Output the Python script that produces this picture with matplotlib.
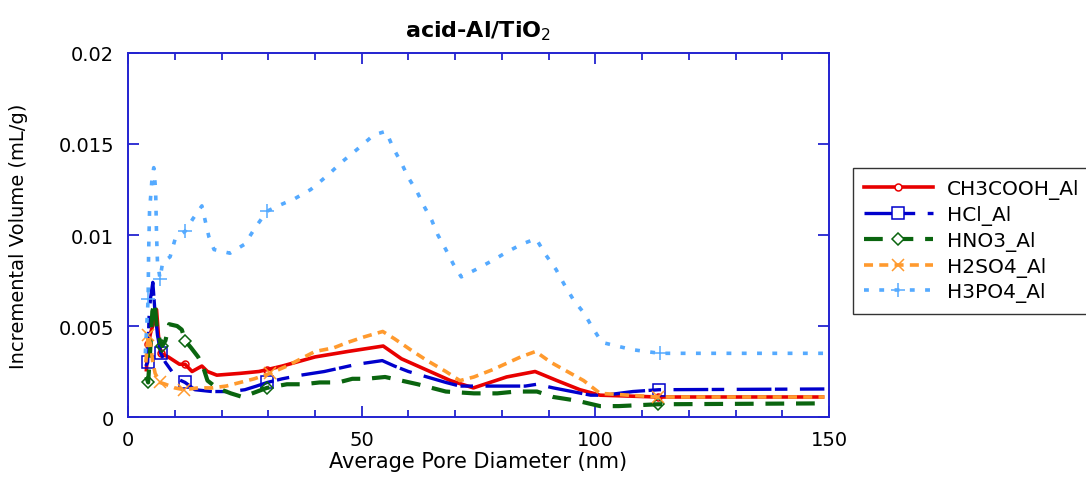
import matplotlib
matplotlib.use("Agg")
import matplotlib.pyplot as plt
from matplotlib.lines import Line2D
from matplotlib.ticker import MultipleLocator, FuncFormatter

# Distribucion BJH de tamano de poro para cada acido
ch3cooh_d = [3.9, 4.3, 4.8, 5.5, 6.1, 6.5, 7.0, 8.6, 11.0, 12.2, 13.7, 15.8, 17.0, 19.0,
             24.0, 28.0, 29.7, 33.0, 40.0, 47.0, 54.6, 58.5, 62.0, 65.5, 69.0, 73.9,
             81.0, 87.1, 91.8, 96.7, 101.0, 113.4, 149.0]
ch3cooh_v = [0.0025, 0.0040, 0.0046, 0.0052, 0.0059, 0.0045, 0.0035, 0.0033, 0.0029, 0.0029,
             0.0025, 0.0028, 0.0025, 0.0023, 0.0024, 0.0025, 0.0026, 0.0028, 0.0033, 0.0036,
             0.0039, 0.0032, 0.0028, 0.0024, 0.0020, 0.0016, 0.0022, 0.0025, 0.0020, 0.0015,
             0.0012, 0.0011, 0.0011]
ch3cooh_marks = [4.3, 7.0, 12.2, 29.7, 113.4]

hcl_d = [3.8, 4.2, 4.5, 4.8, 5.3, 5.7, 6.3, 7.0, 8.0, 9.4, 10.5, 12.2, 14.3, 18.0, 22.0,
         25.0, 27.5, 29.8, 33.0, 37.0, 42.0, 49.0, 54.4, 57.0, 60.0, 64.0, 68.0, 71.0,
         78.0, 85.0, 87.5, 91.0, 95.0, 99.0, 102.0, 108.0, 113.6, 149.0]
hcl_v = [0.0028, 0.0030, 0.0055, 0.0065, 0.0074, 0.0060, 0.0045, 0.0035, 0.0030, 0.0025,
         0.0021, 0.0019, 0.0015, 0.0014, 0.0014, 0.0015, 0.0017, 0.0019, 0.0021, 0.0023,
         0.0025, 0.0029, 0.0031, 0.0028, 0.0025, 0.0022, 0.0019, 0.0017, 0.0017, 0.0017,
         0.0018, 0.0016, 0.0014, 0.0012, 0.0012, 0.0014, 0.0015, 0.00154]
hcl_marks = [4.2, 7.0, 12.2, 29.8, 113.6]

hno3_d = [3.9, 4.3, 4.7, 5.2, 5.7, 6.2, 6.8, 7.3, 8.0, 8.8, 10.5, 11.5, 12.2, 13.5, 15.0,
          16.0, 17.0, 19.0, 22.0, 24.5, 29.7, 34.0, 37.5, 41.0, 45.0, 48.0, 51.0, 55.0,
          62.0, 68.0, 74.0, 79.0, 83.0, 87.5, 91.0, 96.0, 101.0, 105.0, 110.0, 113.4, 149.0]
hno3_v = [0.0022, 0.0019, 0.0035, 0.0058, 0.0063, 0.0048, 0.0042, 0.0039, 0.0042, 0.0051,
          0.0050, 0.0048, 0.0042, 0.0038, 0.0033, 0.0028, 0.0020, 0.0016, 0.0013, 0.0011,
          0.0016, 0.0018, 0.0018, 0.0019, 0.0019, 0.0021, 0.0021, 0.0022, 0.0018, 0.0014,
          0.0013, 0.0013, 0.0014, 0.0014, 0.0011, 0.0009, 0.0006, 0.0006, 0.00066, 0.0007,
          0.00075]
hno3_marks = [4.3, 7.3, 12.2, 29.7, 113.4]

h2so4_d = [3.8, 4.3, 4.8, 5.3, 5.8, 6.8, 8.0, 10.0, 12.0, 15.0, 18.0, 21.0, 24.0, 27.0,
           30.4, 34.0, 37.0, 40.0, 44.0, 47.0, 50.5, 54.5, 57.0, 61.0, 64.0, 68.0, 71.0,
           74.0, 78.0, 84.0, 87.2, 90.5, 94.0, 97.5, 101.0, 113.4, 149.0]
h2so4_v = [0.0030, 0.0045, 0.0040, 0.0030, 0.0024, 0.0019, 0.0018, 0.0016, 0.0015, 0.0016,
           0.0016, 0.0017, 0.0019, 0.0021, 0.0024, 0.0028, 0.0032, 0.0036, 0.0038, 0.0041,
           0.0044, 0.0047, 0.0043, 0.0036, 0.0031, 0.0025, 0.0020, 0.0022, 0.0026, 0.0033,
           0.0036, 0.0030, 0.0025, 0.0020, 0.0013, 0.0011, 0.0011]
h2so4_marks = [4.3, 6.8, 12.0, 30.4, 113.4]

h3po4_d = [3.7, 4.0, 4.3, 4.4, 4.6, 5.1, 5.5, 5.9, 6.1, 6.3, 6.85, 7.4, 9.0, 10.1, 12.2,
           13.9, 15.8, 16.5, 17.3, 18.4, 21.8, 25.0, 27.2, 29.7, 32.1, 35.7, 39.1, 42.8,
           45.7, 49.0, 52.6, 55.2, 56.7, 58.4, 60.1, 61.8, 63.3, 65.0, 66.3, 68.0, 69.6,
           71.3, 74.4, 78.0, 81.3, 84.3, 87.3, 89.4, 91.6, 93.3, 95.4, 97.6, 99.4, 101.4,
           104.6, 107.9, 113.8, 149.0]
h3po4_v = [0.0035, 0.0050, 0.0065, 0.0090, 0.0113, 0.0130, 0.0137, 0.0125, 0.0100, 0.0085,
           0.0076, 0.0085, 0.0088, 0.0098, 0.0102, 0.0109, 0.0116, 0.0108, 0.0099, 0.0092,
           0.0090, 0.0095, 0.0104, 0.0113, 0.0116, 0.0120, 0.0125, 0.0133, 0.0140, 0.0147,
           0.0155, 0.0157, 0.0148, 0.0140, 0.0131, 0.0124, 0.0116, 0.0108, 0.0100, 0.0092,
           0.0084, 0.0077, 0.0081, 0.0086, 0.0091, 0.0095, 0.0098, 0.0089, 0.0081, 0.0073,
           0.0064, 0.0057, 0.0049, 0.0041, 0.0039, 0.0037, 0.0035, 0.0035]
h3po4_marks = [4.3, 6.85, 12.2, 29.7, 113.8]

labels = ["CH3COOH_Al", "HCl_Al", "HNO3_Al", "H2SO4_Al", "H3PO4_Al"]

plt.rcParams["font.family"] = "DejaVu Sans"
plt.rcParams["lines.scale_dashes"] = False

series = [
    (ch3cooh_d, ch3cooh_v, ch3cooh_marks,
     dict(color="#e80000", lw=2.6, ls="-", marker="o", ms=5)),
    (hcl_d, hcl_v, hcl_marks,
     dict(color="#0000cc", lw=2.4, ls=(0, (25, 2.5, 9, 9)), marker="s", ms=8)),
    (hno3_d, hno3_v, hno3_marks,
     dict(color="#0a650f", lw=3.0, ls=(0, (13.5, 8.5)), marker="D", ms=6.5)),
    (h2so4_d, h2so4_v, h2so4_marks,
     dict(color="#ff9a2e", lw=2.6, ls=(0, (6.5, 4.5)), marker="x", ms=8)),
    (h3po4_d, h3po4_v, h3po4_marks,
     dict(color="#55aaff", lw=2.6, ls=(0, (3.5, 7.5)), marker="+", ms=10)),
]

fig = plt.figure(figsize=(10.86, 4.85), dpi=100)
ax = fig.add_axes([0.1179, 0.1381, 0.6455, 0.7506])

handles = []
for (d, v, marks, st), lab in zip(series, labels):
    idx = [d.index(m) for m in marks]
    ax.plot(d, v, color=st["color"], lw=st["lw"], ls=st["ls"], marker=st["marker"],
            ms=st["ms"], mfc="none", mec=st["color"], mew=1.1, markevery=idx,
            dash_capstyle="butt", solid_capstyle="butt")
    handles.append(Line2D([], [], color=st["color"], lw=st["lw"], ls=st["ls"],
                          marker=st["marker"], ms=st["ms"], mfc="white",
                          mec=st["color"], mew=1.1, dash_capstyle="butt", label=lab))

ax.set_xlim(0, 150)
ax.set_ylim(0, 0.02)
ax.xaxis.set_major_locator(MultipleLocator(50))
ax.xaxis.set_minor_locator(MultipleLocator(10))
ax.yaxis.set_major_locator(MultipleLocator(0.005))
ax.yaxis.set_major_formatter(FuncFormatter(lambda v, p: f"{v:g}"))

frame_color = "#2323d0"
for s in ax.spines.values():
    s.set_color(frame_color)
    s.set_linewidth(1.4)
ax.tick_params(which="both", direction="in", top=True, right=True, color=frame_color,
               labelsize=14, width=1.3)
ax.tick_params(which="major", length=8)
ax.tick_params(which="minor", length=5)
ax.tick_params(axis="x", pad=9)
ax.tick_params(axis="y", pad=10)

ax.set_xlabel("Average Pore Diameter (nm)", fontsize=15, labelpad=2)
ax.set_ylabel("Incremental Volume (mL/g)", fontsize=14, labelpad=22)
ax.set_title("acid-Al/TiO$_2$", fontsize=16, fontweight="bold", pad=12)

fig.legend(handles=handles, loc="upper left", bbox_to_anchor=(0.7855, 0.6515),
           borderaxespad=0, frameon=True, fancybox=False, edgecolor="black",
           fontsize=14.5, handlelength=3.4, handletextpad=0.7, labelspacing=0.29,
           borderpad=0.55, numpoints=1)
fig.legends[0].get_frame().set_linewidth(1.0)

fig.savefig("out.png", dpi=100)
